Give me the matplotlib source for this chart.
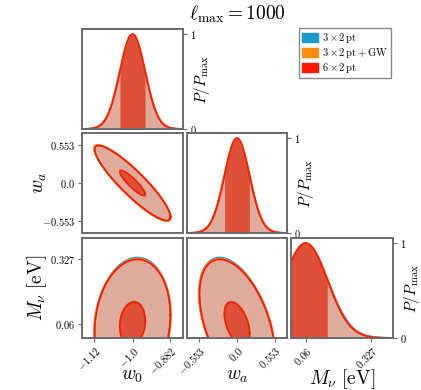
import numpy as np
import matplotlib.pyplot as plt
from matplotlib.patches import Patch

plt.rcParams['mathtext.fontset'] = 'cm'
plt.rcParams['font.family'] = 'DejaVu Serif'

# parameters: w0, wa, M_nu
fiducial = [-1.0, 0.0, 0.06]
tick_vals = [[-1.12, -1.0, -0.882], [-0.553, 0.0, 0.553], [0.06, 0.327]]
tick_labels = [['-1.12', '-1.0', '-0.882'], ['-0.553', '0.0', '0.553'], ['0.06', '0.327']]
param_labels = [r'$w_0$', r'$w_a$', r'$M_\nu\ [\mathrm{eV}]$']

# marginal errors and correlations (w0-wa, w0-Mnu, wa-Mnu) for each probe
names = [r'$3\times2\,\mathrm{pt}$', r'$3\times2\,\mathrm{pt}+\mathrm{GW}$', r'$6\times2\,\mathrm{pt}$']
line_colors = ['#1a9bd0', '#ff8c10', '#ff1a00']
sigma_3x2 = [0.0395, 0.1855, 0.0915]
sigma_gw = [0.0398, 0.1870, 0.0900]
sigma_6x2 = [0.0393, 0.1840, 0.0890]
corr_3x2 = [-0.90, 0.13, -0.46]
corr_gw = [-0.90, 0.13, -0.46]
corr_6x2 = [-0.90, 0.13, -0.46]
sigmas = [sigma_3x2, sigma_gw, sigma_6x2]
corrs = [corr_3x2, corr_gw, corr_6x2]

light = '#dfab9d'
dark = '#e05039'
frame = '#6a6a6a'


def cov_matrix(sig, rho):
    c = np.diag(np.array(sig) ** 2)
    pairs = [(0, 1), (0, 2), (1, 2)]
    for (i, j), r in zip(pairs, rho):
        c[i, j] = c[j, i] = r * sig[i] * sig[j]
    return c


def limits(i):
    s = sigma_6x2[i]
    lo = fiducial[i] - 4 * s
    if i == 2:
        lo = 0.0
    return lo, fiducial[i] + 4 * s


W, H = 421, 390
fig = plt.figure(figsize=(W / 100, H / 100), dpi=100)
cols = [(82, 183), (187, 287), (291, 393)]
rows = [(29, 129), (133, 233), (238, 338)]

axes = {}
for r in range(3):
    for c in range(r + 1):
        x0, x1 = cols[c]
        y0, y1 = rows[r]
        ax = fig.add_axes([x0 / W, 1 - y1 / H, (x1 - x0) / W, (y1 - y0) / H])
        for sp in ax.spines.values():
            sp.set_color(frame)
            sp.set_linewidth(1.4)
        ax.tick_params(color=frame, length=3, width=0.8, labelsize=7.5, pad=2)
        axes[(r, c)] = ax

t = np.linspace(0, 2 * np.pi, 400)
for k in range(3):
    cov = cov_matrix(sigmas[k], corrs[k])
    for r in range(3):
        for c in range(r + 1):
            ax = axes[(r, c)]
            if r == c:
                lo, hi = limits(c)
                x = np.linspace(lo, hi, 400)
                s = np.sqrt(cov[c, c])
                y = np.exp(-0.5 * ((x - fiducial[c]) / s) ** 2)
                ax.fill_between(x, 0, y, color=light, lw=0)
                m = np.abs(x - fiducial[c]) <= s
                ax.fill_between(x[m], 0, y[m], color=dark, lw=0)
                ax.plot(x, y, color=line_colors[k], lw=1.3)
            else:
                sub = cov[np.ix_([c, r], [c, r])]
                L = np.linalg.cholesky(sub)
                for n, fc in [(3, light), (1, dark)]:
                    pts = n * L @ np.vstack([np.cos(t), np.sin(t)])
                    ex = fiducial[c] + pts[0]
                    ey = fiducial[r] + pts[1]
                    ax.fill(ex, ey, color=fc, lw=0)
                    ax.plot(ex, ey, color=line_colors[k], lw=1.3)

for r in range(3):
    for c in range(r + 1):
        ax = axes[(r, c)]
        ax.set_xlim(*limits(c))
        if r == c:
            ax.set_ylim(0, 1.055)
            ax.yaxis.tick_right()
            ax.yaxis.set_label_position('right')
            ax.set_yticks([0, 1])
            ax.set_yticklabels(['$0$', '$1$'])
            ax.set_ylabel(r'$P/P_{\max}$', fontsize=11)
            ax.yaxis.set_label_coords(1.09, 0.5)
        else:
            ax.set_ylim(*limits(r))
            if c == 0:
                ax.set_yticks(tick_vals[r])
                ax.set_yticklabels(['$' + s + '$' for s in tick_labels[r]])
                ax.set_ylabel(param_labels[r], fontsize=14)
                ax.yaxis.set_label_coords(-0.33, 0.5)
            else:
                ax.set_yticks([])
        if r == 2:
            ax.set_xticks(tick_vals[c])
            ax.set_xticklabels(['$' + s + '$' for s in tick_labels[c]],
                               rotation=45, ha='right', rotation_mode='anchor')
            ax.set_xlabel(param_labels[c], fontsize=14)
            ax.xaxis.set_label_coords(0.5, -0.29)
        else:
            ax.set_xticks([])

handles = [Patch(color=col, label=nm) for col, nm in zip(line_colors, names)]
fig.legend(handles=handles, loc='upper right', bbox_to_anchor=(391 / W, 1 - 28 / H),
           fontsize=7.5, frameon=True, fancybox=False, edgecolor=frame,
           handlelength=1.5, handleheight=0.9, handletextpad=0.4,
           borderpad=0.3, labelspacing=0.1, borderaxespad=0)

fig.text(237 / W, 1 - 14 / H, r'$\ell_{\max} = 1000$', fontsize=14,
         ha='center', va='center')

fig.savefig('out.png', dpi=100)
